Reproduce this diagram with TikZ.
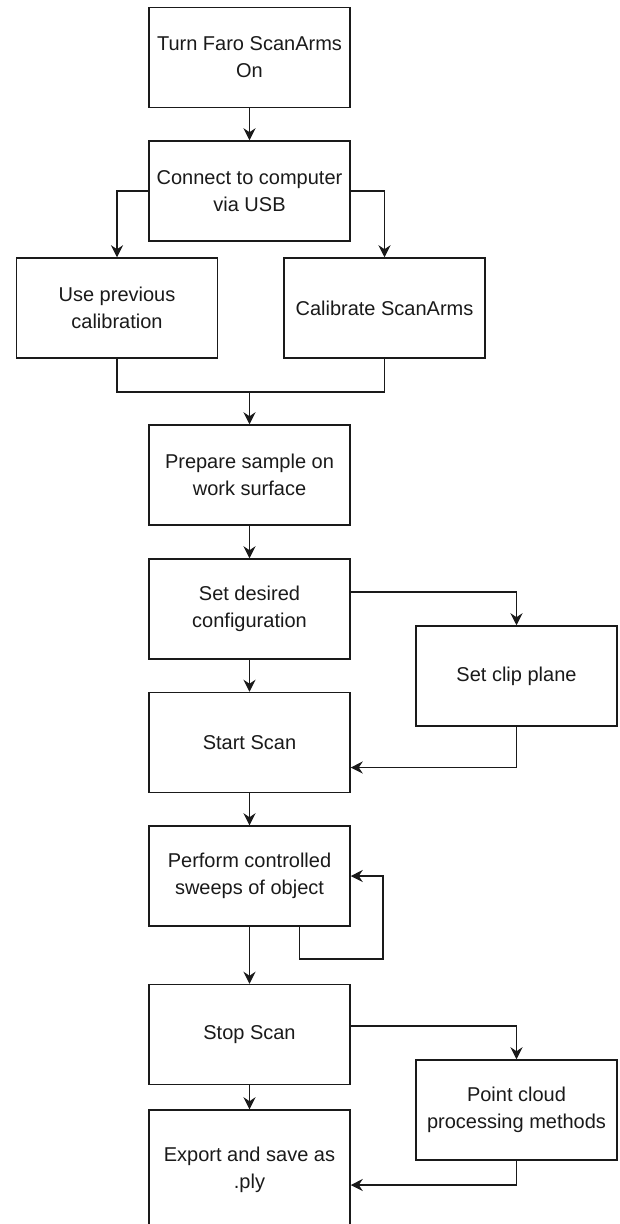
\documentclass[tikz,border=0pt]{standalone}
\usepackage{fontspec}
\setmainfont{Liberation Sans}
\usepackage{tikz}
\usetikzlibrary{arrows.meta}
\definecolor{flowline}{RGB}{26,26,26}
\newcommand{\flowfont}{\fontsize{20}{27}\selectfont}

\begin{document}
\begin{tikzpicture}[x=1pt,y=-1pt,
    every node/.style={font=\flowfont,text=flowline},
    stepbox/.style={draw=flowline,line width=1.5pt,minimum width=201pt,minimum height=100pt,inner sep=0pt,align=center},
    flow/.style={draw=flowline,line width=1.5pt,-{Stealth[length=12pt,width=12pt,inset=4pt]}},
    plain/.style={draw=flowline,line width=1.5pt}]
        \fill[white] (0,0) rectangle (619,1224);
        \useasboundingbox (0,0) rectangle (619,1224);
        \begin{scope}
        \clip (0,0) rectangle (619,1224);
        % main column
        \node[stepbox] (turn) at (249.5,57.5){Turn Faro ScanArms\\On};
        \node[stepbox] (connect) at (249.5,191){Connect to computer\\via USB};
        \node[stepbox] (prevcal) at (117,308){Use previous\\calibration};
        \node[stepbox] (calib) at (384.5,308){Calibrate ScanArms};
        \node[stepbox] (prepare) at (249.5,475){Prepare sample on\\work surface};
        \node[stepbox] (config) at (249.5,609){Set desired\\configuration};
        \node[stepbox] (clip) at (516.5,676){Set clip plane};
        \node[stepbox] (start) at (249.5,742.5){Start Scan};
        \node[stepbox] (sweep) at (249.5,876){Perform controlled\\sweeps of object};
        \node[stepbox] (stop) at (249.5,1034.5){Stop Scan};
        \node[stepbox] (cloud) at (516.5,1110){Point cloud\\processing methods};
        \node[stepbox,minimum height=120pt] (export) at (249.5,1170){Export and save as\\.ply};
        \coordinate (join) at (249.5,392);
        \coordinate (loopend) at (383,959);
        % connectors
        \draw[flow] (turn) -- (connect);
        \draw[flow] (connect.west) -| (prevcal.north);
        \draw[flow] (connect.east) -| (calib.north);
        \draw[plain] (prevcal.south) |- (join) -| (calib.south);
        \draw[flow] (join) -- (prepare.north);
        \draw[flow] (prepare) -- (config);
        \draw[flow] ([yshift=17pt]config.east) -| (clip.north);
        \draw[flow] (config) -- (start);
        \draw[flow] (clip.south) |- ([yshift=-25pt]start.east);
        \draw[flow] (start) -- (sweep);
        \draw[flow] ([xshift=50pt]sweep.south) |- (loopend) |- (sweep.east);
        \draw[flow] (sweep) -- (stop);
        \draw[flow] ([yshift=8.5pt]stop.east) -| (cloud.north);
        \draw[flow] (stop) -- (export);
        \draw[flow] (cloud.south) |- ([yshift=-15pt]export.east);
        \end{scope}
      \end{tikzpicture}
\end{document}
